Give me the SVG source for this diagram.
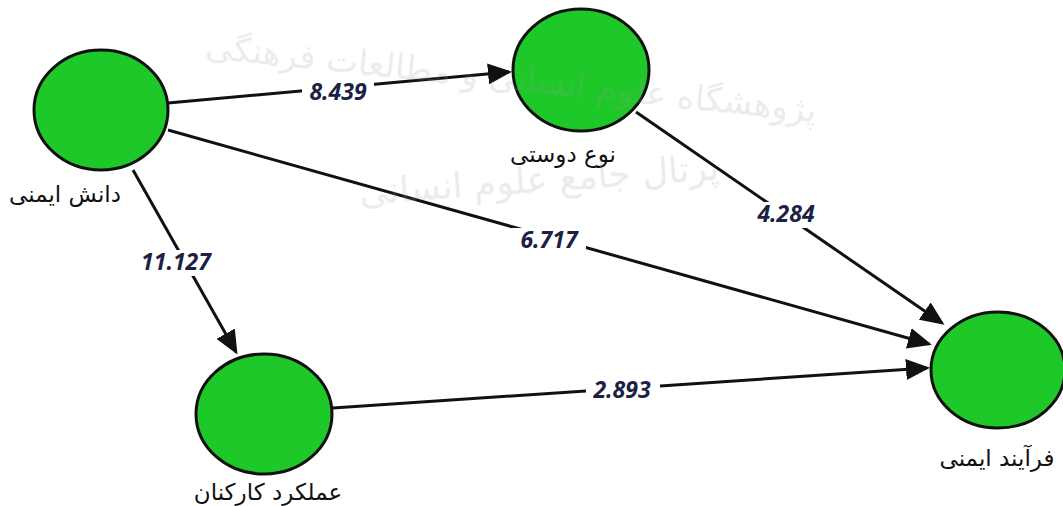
<svg xmlns="http://www.w3.org/2000/svg" width="1063" height="506" viewBox="0 0 1063 506">
  <style>
    .node { fill: #1fc829; stroke: #111; stroke-width: 3; }
    .lbl { font-family: "DejaVu Sans", "Noto Sans", sans-serif; font-size: 23px; fill: #111; text-anchor: middle; }
    .edge { stroke: #111; stroke-width: 3; fill: none; }
    .gap { fill: #fff; }
    .w { font-family: "Open Sans", "Liberation Sans", sans-serif; font-size: 23px; font-weight: bold; font-style: italic; fill: #1b2142; text-anchor: middle; }
    .wm { font-family: "DejaVu Sans", sans-serif; fill: #9a9a9a; opacity: 0.2; }
  </style>
  <defs>
    <marker id="arr" markerWidth="8" markerHeight="7" refX="7" refY="3.5" orient="auto" markerUnits="strokeWidth">
      <path d="M0,0 L8,3.5 L0,7 Z" fill="#111"/>
    </marker>
  </defs>
  <rect width="1063" height="506" fill="#fff"/>

  <!-- connectors with path coefficients -->
  <g id="connectors">
    <line class="edge" x1="168" y1="103" x2="509" y2="72" marker-end="url(#arr)"/>
    <line class="edge" x1="168" y1="130" x2="929" y2="344" marker-end="url(#arr)"/>
    <line class="edge" x1="133" y1="170" x2="236" y2="352" marker-end="url(#arr)"/>
    <line class="edge" x1="636" y1="112" x2="942" y2="323" marker-end="url(#arr)"/>
    <line class="edge" x1="333" y1="408" x2="927" y2="368" marker-end="url(#arr)"/>
    <rect class="gap" x="302" y="80" width="72" height="24"/>
    <rect class="gap" x="512" y="228" width="74" height="26"/>
    <rect class="gap" x="132" y="250" width="88" height="26"/>
    <rect class="gap" x="748" y="202" width="76" height="26"/>
    <rect class="gap" x="586" y="378" width="74" height="24"/>
    <text class="w" x="338" y="100">8.439</text>
    <text class="w" x="549" y="248">6.717</text>
    <text class="w" x="176" y="270">11.127</text>
    <text class="w" x="786" y="222">4.284</text>
    <text class="w" x="622" y="398">2.893</text>
  </g>

  <g id="n-danesh">
    <ellipse class="node" cx="101" cy="110" rx="67" ry="60"/>
    <text class="lbl" x="65" y="202">دانش ایمنی</text>
  </g>
  <g id="n-noedousti">
    <ellipse class="node" cx="581" cy="70" rx="68" ry="61"/>
    <text class="lbl" x="563" y="162">نوع دوستی</text>
  </g>
  <g id="n-amalkard">
    <ellipse class="node" cx="264" cy="414" rx="68" ry="60"/>
    <text class="lbl" x="268" y="500">عملکرد کارکنان</text>
  </g>
  <g id="n-farayand">
    <ellipse class="node" cx="998" cy="370" rx="67" ry="58"/>
    <text class="lbl" x="997" y="466">فرآیند ایمنی</text>
  </g>

  <!-- faint background watermark -->
  <g id="watermark" class="wm">
    <text x="510" y="90" font-size="34" text-anchor="middle" transform="rotate(6 510 90)">پژوهشگاه علوم انسانی و مطالعات فرهنگی</text>
    <text x="540" y="192" font-size="36" text-anchor="middle" transform="rotate(-4 540 192)">پرتال جامع علوم انسانی</text>
  </g>
</svg>
